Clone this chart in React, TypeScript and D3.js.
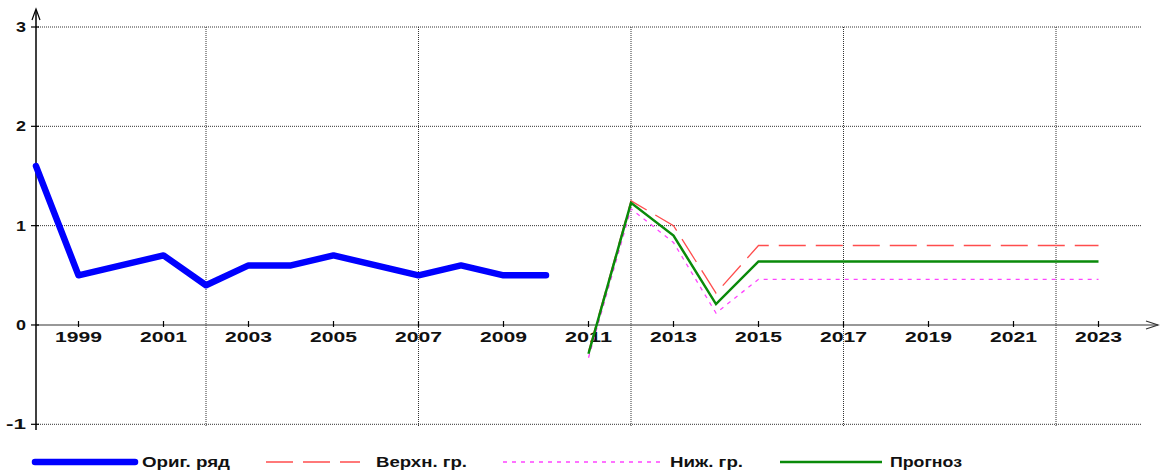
import React from "react";
import * as d3 from "d3";

const origYears = [1998, 1999, 2000, 2001, 2002, 2003, 2004, 2005, 2006, 2007, 2008, 2009, 2010];
const origValues = [1.6, 0.5, 0.6, 0.7, 0.4, 0.6, 0.6, 0.7, 0.6, 0.5, 0.6, 0.5, 0.5];

const fcYears = [2011, 2012, 2013, 2014, 2015, 2016, 2017, 2018, 2019, 2020, 2021, 2022, 2023];
const upperValues = [-0.27, 1.25, 1.0, 0.32, 0.8, 0.8, 0.8, 0.8, 0.8, 0.8, 0.8, 0.8, 0.8];
const lowerValues = [-0.33, 1.17, 0.83, 0.12, 0.46, 0.46, 0.46, 0.46, 0.46, 0.46, 0.46, 0.46, 0.46];
const forecastValues = [-0.29, 1.23, 0.9, 0.21, 0.64, 0.64, 0.64, 0.64, 0.64, 0.64, 0.64, 0.64, 0.64];

const xTickLabels = [1999, 2001, 2003, 2005, 2007, 2009, 2011, 2013, 2015, 2017, 2019, 2021, 2023];
const xGridYears = [2002, 2007, 2012, 2017, 2022];
const yTicks = [-1, 0, 1, 2, 3];
const legendLabels = ["Ориг. ряд", "Верхн. гр.", "Ниж. гр.", "Прогноз"];

const legendLayout = [
  { color: "#0000ff", width: 6.5, dash: "", x1: 35, x2: 135, tx: 142, tl: 88 },
  { color: "#ff4d4d", width: 1.3, dash: "27,10", x1: 266, x2: 360, tx: 376, tl: 91 },
  { color: "#ff44ff", width: 1.3, dash: "4,5", x1: 503, x2: 660, tx: 670, tl: 73 },
  { color: "#0a8a0a", width: 2.5, dash: "", x1: 780, x2: 882, tx: 890, tl: 72 },
];

export default function App() {
  const W = 1160, H = 470;
  const x = d3.scaleLinear().domain([1998, 2024]).range([36, 1141]);
  const y = d3.scaleLinear().domain([-1, 3]).range([424.3, 27]);
  const line = d3.line<[number, number]>().x(d => x(d[0])).y(d => y(d[1]));
  const orig = line(origYears.map((yr, i) => [yr, origValues[i]]));
  const up = line(fcYears.map((yr, i) => [yr, upperValues[i]]));
  const lo = line(fcYears.map((yr, i) => [yr, lowerValues[i]]));
  const fc = line(fcYears.map((yr, i) => [yr, forecastValues[i]]));
  const font = "'Liberation Sans', Arial, sans-serif";
  const x0 = x(1998);
  const y0 = y(0);
  return (
    <svg width={W} height={H} style={{ position: "absolute", left: 0, top: 0, background: "#fff" }}
      fontFamily={font}>
      {yTicks.filter(t => t !== 0).map(t => (
        <line key={"hg" + t} x1={x0} x2={x(2024)} y1={y(t)} y2={y(t)} stroke="#333" strokeWidth={1} strokeDasharray="1,1" />
      ))}
      {xGridYears.map(yr => (
        <line key={"vg" + yr} x1={x(yr)} x2={x(yr)} y1={y(3)} y2={y(-1) + 2} stroke="#333" strokeWidth={1} strokeDasharray="1,1" />
      ))}
      <line x1={x0} x2={x0} y1={10} y2={430} stroke="#000" strokeWidth={1.5} />
      <path d={`M${x0 - 4},${20} L${x0},${9} L${x0 + 4},${20}`} fill="none" stroke="#000" strokeWidth={1.2} />
      <line x1={x0} x2={1158} y1={y0} y2={y0} stroke="#333" strokeWidth={1.2} />
      <path d={`M${1146},${y0 - 4} L${1158},${y0} L${1146},${y0 + 4}`} fill="none" stroke="#333" strokeWidth={1.2} />
      {yTicks.map(t => (
        <g key={"yt" + t}>
          <line x1={x0 - 5} x2={x0 + 3} y1={y(t)} y2={y(t)} stroke="#000" strokeWidth={1.2} />
          <text x={26} y={y(t) + 5} textAnchor="end" fontSize={14} fontWeight="bold" fill="#111"
            textLength={t < 0 ? 20 : 10} lengthAdjust="spacingAndGlyphs">{t}</text>
        </g>
      ))}
      {xTickLabels.map(yr => (
        <g key={"xt" + yr}>
          <line x1={x(yr)} x2={x(yr)} y1={y0 - 4} y2={y0 + 2} stroke="#000" strokeWidth={1.2} />
          <text x={x(yr)} y={342} textAnchor="middle" fontSize={14} fontWeight="bold" fill="#111"
            textLength={47} lengthAdjust="spacingAndGlyphs">{yr}</text>
        </g>
      ))}
      <path d={up!} fill="none" stroke="#ff4d4d" strokeWidth={1.3} strokeDasharray="27,10" />
      <path d={lo!} fill="none" stroke="#ff44ff" strokeWidth={1.3} strokeDasharray="4,5" />
      <path d={fc!} fill="none" stroke="#0a8a0a" strokeWidth={2.5} />
      <path d={orig!} fill="none" stroke="#0000ff" strokeWidth={6.5} strokeLinejoin="round" strokeLinecap="round" />
      {legendLabels.map((label, i) => {
        const it = legendLayout[i];
        return (
          <g key={label}>
            <line x1={it.x1} x2={it.x2} y1={462} y2={462} stroke={it.color} strokeWidth={it.width}
              strokeDasharray={it.dash || undefined} strokeLinecap={it.width > 4 ? "round" : "butt"} />
            <text x={it.tx} y={467} fontSize={14} fontWeight="bold" fill="#111"
              textLength={it.tl} lengthAdjust="spacingAndGlyphs">{label}</text>
          </g>
        );
      })}
    </svg>
  );
}
